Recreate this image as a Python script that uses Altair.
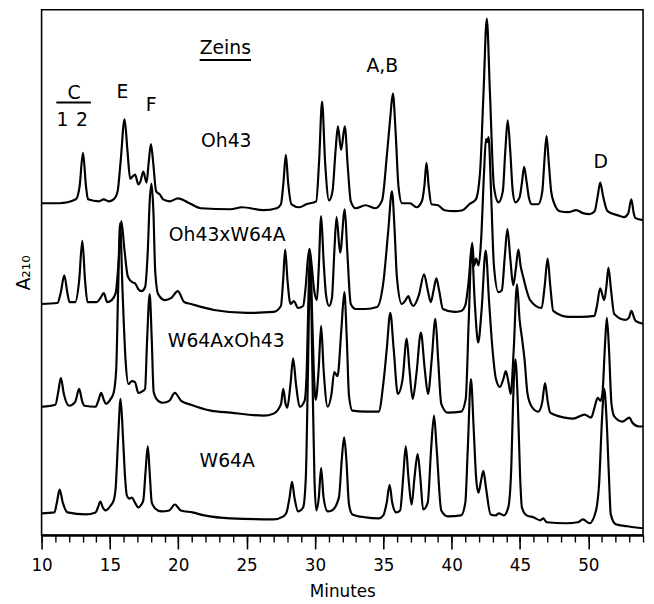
import altair as alt
import pandas as pd

# ---- chromatogram traces: retention time (min) and A210 (arbitrary units, stacked offsets)
oh43_t = [10.00, 11.30, 12.51, 12.78, 13.03, 13.25, 13.40, 14.19, 14.55, 14.91, 15.27, 15.56, 15.78, 16.07, 16.29, 16.48, 16.65, 16.84, 17.08, 17.23, 17.44, 17.68, 17.84, 18.00, 18.16, 18.38, 18.65, 18.89, 19.37, 19.97, 20.82, 21.65, 23.82, 24.67, 26.24, 27.20, 27.51, 27.70, 27.87, 28.03, 28.28, 28.86, 29.36, 30.09, 30.30, 30.52, 30.74, 31.03, 31.28, 31.50, 31.68, 31.91, 32.18, 32.40, 32.62, 32.98, 33.70, 34.42, 34.91, 35.27, 35.51, 35.70, 35.90, 36.11, 36.37, 36.95, 37.43, 37.82, 38.00, 38.16, 38.32, 38.52, 39.00, 39.48, 40.20, 40.80, 41.29, 41.77, 42.08, 42.33, 42.57, 42.80, 43.09, 43.42, 43.74, 43.92, 44.10, 44.29, 44.47, 44.66, 44.97, 45.15, 45.30, 45.48, 45.66, 45.86, 46.34, 46.63, 46.78, 46.94, 47.10, 47.28, 47.50, 47.91, 48.51, 49.11, 49.60, 50.08, 50.46, 50.68, 50.87, 51.08, 51.40, 52.12, 52.61, 52.92, 53.14, 53.32, 53.45, 54.00]
oh43_a = [336, 336, 340, 353, 387, 353, 340, 338, 340, 338, 340, 348, 378, 421, 388, 361, 363, 365, 355, 358, 368, 357, 378, 396, 378, 348, 345, 340, 338, 341, 336, 331, 330, 332, 329, 331, 335, 358, 385, 358, 335, 332, 335, 338, 378, 439, 378, 339, 348, 388, 414, 390, 414, 373, 338, 331, 334, 331, 339, 386, 423, 447, 408, 353, 336, 336, 332, 338, 353, 377, 353, 335, 334, 329, 328, 329, 335, 340, 368, 448, 523, 448, 353, 337, 348, 388, 420, 388, 348, 337, 342, 358, 373, 358, 341, 335, 335, 348, 378, 404, 378, 348, 336, 328, 327, 329, 326, 325, 328, 343, 357, 343, 328, 324, 322, 326, 340, 326, 321, 319]

oh43xw64a_t = [10.00, 11.16, 11.41, 11.66, 11.88, 12.04, 12.46, 12.75, 12.98, 13.18, 13.36, 14.05, 14.30, 14.55, 14.80, 15.13, 15.42, 15.64, 15.83, 16.07, 16.29, 16.48, 16.65, 16.84, 17.08, 17.32, 17.57, 17.77, 17.91, 18.04, 18.18, 18.31, 18.53, 19.01, 19.47, 19.97, 20.43, 20.93, 22.62, 25.03, 26.96, 27.51, 27.67, 27.82, 27.99, 28.21, 28.45, 28.76, 29.13, 29.33, 29.47, 29.60, 29.76, 29.94, 30.14, 30.27, 30.45, 30.63, 30.81, 31.03, 31.24, 31.42, 31.58, 31.84, 32.18, 32.36, 32.62, 32.98, 33.70, 34.54, 35.02, 35.36, 35.63, 35.83, 35.99, 36.35, 36.63, 36.83, 37.02, 37.19, 37.60, 37.98, 38.25, 38.47, 38.68, 38.88, 39.08, 39.36, 40.20, 40.69, 41.00, 41.25, 41.50, 41.65, 41.79, 41.97, 42.15, 42.37, 42.51, 42.61, 42.70, 42.88, 43.09, 43.42, 43.67, 43.89, 44.08, 44.29, 44.50, 44.68, 44.88, 45.04, 45.26, 45.48, 45.74, 46.58, 46.81, 47.02, 47.21, 47.43, 48.51, 49.47, 50.44, 50.64, 50.86, 51.16, 51.33, 51.47, 51.66, 51.89, 52.72, 52.96, 53.15, 53.35, 53.45, 54.00]
oh43xw64a_a = [234, 235, 246, 263, 246, 236, 236, 258, 298, 258, 236, 236, 240, 245, 236, 238, 245, 278, 318, 288, 263, 258, 256, 255, 249, 247, 251, 288, 338, 356, 328, 268, 244, 238, 240, 247, 236, 234, 228, 225, 226, 232, 258, 289, 258, 234, 237, 230, 232, 253, 278, 290, 273, 248, 238, 268, 323, 278, 243, 232, 240, 288, 322, 286, 330, 288, 234, 229, 229, 231, 258, 308, 348, 308, 262, 234, 238, 242, 235, 232, 243, 264, 248, 236, 248, 260, 248, 229, 226, 227, 233, 258, 296, 273, 280, 273, 298, 368, 401, 398, 403, 348, 273, 246, 248, 283, 310, 280, 253, 268, 289, 273, 260, 248, 238, 230, 253, 280, 253, 227, 221, 221, 222, 233, 250, 238, 253, 271, 248, 224, 218, 220, 227, 220, 217, 214]

w64axoh43_t = [10.00, 11.01, 11.23, 11.41, 11.63, 12.02, 12.46, 12.75, 12.96, 13.14, 13.95, 14.15, 14.36, 14.55, 14.70, 15.06, 15.27, 15.46, 15.60, 15.74, 15.92, 16.14, 16.36, 16.60, 16.83, 17.08, 17.30, 17.57, 17.72, 17.91, 18.06, 18.20, 18.53, 18.89, 19.34, 19.75, 20.21, 20.93, 22.38, 23.82, 26.24, 26.96, 27.52, 27.68, 27.85, 27.97, 28.21, 28.40, 28.61, 28.88, 29.24, 29.40, 29.52, 29.64, 29.76, 29.91, 30.05, 30.27, 30.45, 30.63, 30.93, 31.21, 31.41, 31.65, 31.93, 32.15, 32.33, 32.49, 32.74, 33.70, 34.66, 35.02, 35.25, 35.51, 35.76, 36.06, 36.41, 36.71, 36.91, 37.15, 37.42, 37.75, 38.03, 38.27, 38.54, 38.81, 39.01, 39.24, 39.72, 40.69, 41.03, 41.25, 41.47, 41.68, 41.94, 42.19, 42.49, 42.73, 42.97, 43.24, 43.53, 43.78, 43.96, 44.14, 44.32, 44.54, 44.78, 44.97, 45.14, 45.33, 45.55, 45.86, 46.34, 46.63, 46.83, 47.03, 47.21, 48.27, 48.87, 49.31, 49.72, 50.20, 50.43, 50.68, 50.90, 51.04, 51.20, 51.35, 51.51, 51.69, 51.91, 52.49, 53.01, 53.21, 53.69, 54.00]
w64axoh43_a = [130, 132, 146, 159, 143, 131, 135, 148, 136, 131, 130, 136, 144, 137, 133, 138, 144, 168, 248, 316, 248, 178, 153, 156, 155, 144, 145, 148, 198, 244, 198, 145, 136, 134, 136, 144, 136, 132, 126, 124, 121, 123, 133, 148, 133, 129, 153, 179, 153, 130, 136, 168, 238, 286, 238, 168, 137, 168, 212, 168, 130, 143, 165, 161, 208, 246, 198, 141, 126, 125, 125, 156, 188, 225, 188, 143, 158, 199, 168, 138, 163, 205, 168, 143, 178, 219, 178, 133, 124, 125, 138, 218, 292, 238, 195, 228, 288, 238, 191, 158, 150, 158, 166, 156, 143, 188, 254, 218, 200, 178, 143, 130, 125, 135, 154, 135, 124, 119, 118, 120, 122, 119, 128, 139, 136, 145, 188, 220, 188, 133, 120, 115, 119, 114, 110, 110]

w64a_t = [10.00, 10.94, 11.12, 11.32, 11.55, 11.90, 13.23, 13.95, 14.12, 14.30, 14.48, 14.67, 15.06, 15.27, 15.42, 15.60, 15.78, 15.96, 16.11, 16.24, 16.43, 16.60, 16.83, 17.08, 17.30, 17.44, 17.60, 17.77, 17.91, 18.06, 18.31, 18.76, 19.34, 19.75, 20.19, 21.03, 21.90, 23.82, 26.96, 27.70, 27.92, 28.14, 28.32, 28.50, 28.76, 29.13, 29.33, 29.49, 29.65, 29.81, 29.96, 30.10, 30.28, 30.45, 30.63, 30.93, 31.24, 31.75, 31.97, 32.13, 32.29, 32.49, 32.74, 33.70, 34.66, 35.00, 35.25, 35.46, 35.65, 35.94, 36.23, 36.45, 36.64, 36.84, 37.07, 37.28, 37.51, 37.71, 37.91, 38.25, 38.50, 38.71, 38.90, 39.24, 39.72, 40.69, 41.00, 41.18, 41.41, 41.61, 41.79, 41.96, 42.15, 42.32, 42.51, 42.85, 43.22, 43.45, 43.82, 44.14, 44.36, 44.50, 44.66, 44.83, 45.01, 45.14, 45.48, 45.98, 46.49, 46.71, 46.94, 48.39, 49.23, 49.60, 50.08, 50.56, 50.79, 51.00, 51.16, 51.33, 51.51, 51.64, 52.00, 52.85, 54.00]
w64a_a = [22, 23, 33, 46, 33, 23, 21, 23, 28, 34, 28, 25, 30, 35, 48, 98, 138, 98, 58, 40, 37, 38, 33, 28, 31, 35, 63, 90, 63, 33, 27, 24, 25, 31, 25, 23, 20, 17, 16, 19, 23, 38, 54, 38, 24, 28, 58, 168, 282, 168, 58, 25, 38, 68, 38, 24, 25, 38, 78, 99, 78, 31, 21, 18, 17, 20, 33, 51, 33, 23, 25, 58, 90, 58, 31, 58, 82, 58, 26, 33, 88, 121, 88, 25, 19, 20, 33, 88, 158, 108, 58, 43, 55, 65, 48, 21, 20, 22, 20, 28, 68, 138, 178, 138, 58, 28, 20, 18, 15, 17, 13, 12, 13, 16, 12, 25, 53, 118, 148, 118, 58, 21, 11, 9, 7]

# ---- axis ticks
major_ticks = [10, 15, 20, 25, 30, 35, 40, 45, 50]
minor_ticks = list(range(10, 55))

# ---- annotations (data coordinates)
label_text = ["Zeins", "C", "1", "2", "E", "F", "Oh43", "Oh43xW64A", "W64AxOh43", "W64A", "A,B", "D"]
label_t = [23.44, 12.38, 11.52, 12.96, 15.92, 18.02, 23.51, 23.58, 23.51, 23.58, 34.93, 50.90]
label_a = [493, 448, 420, 420, 449, 435, 399, 304, 196, 75, 475, 378]

rule_t1 = [21.56, 11.08]
rule_t2 = [25.32, 13.61]
rule_a = [481, 438]

rows = []
for name, ts, hs in [("Oh43", oh43_t, oh43_a), ("Oh43xW64A", oh43xw64a_t, oh43xw64a_a),
                     ("W64AxOh43", w64axoh43_t, w64axoh43_a), ("W64A", w64a_t, w64a_a)]:
    for i, (t, h) in enumerate(zip(ts, hs)):
        rows.append({"trace": name, "minutes": t, "a210": h, "i": i})
df = pd.DataFrame(rows)
df_lab = pd.DataFrame({"text": label_text, "minutes": label_t, "a210": label_a})
df_rule = pd.DataFrame({"t1": rule_t1, "t2": rule_t2, "a210": rule_a})

FONT = "DejaVu Sans"
xs = alt.Scale(domain=[10, 54], nice=False)
ys = alt.Scale(domain=[0, 532], nice=False, zero=False)

x_axis = alt.Axis(
    orient="bottom",
    values=major_ticks,
    tickSize=14, tickWidth=1.6, tickColor="black", domainColor="black", domainWidth=2.2,
    labelFont=FONT, labelFontSize=17, labelColor="black", labelPadding=9,
    labelFlush=False, labelOverlap=False, grid=False,
    titleFont=FONT, titleFontSize=17, titleFontWeight="normal", titleColor="black", titlePadding=10,
)
x_minor_axis = alt.Axis(
    orient="bottom", values=minor_ticks, tickSize=7, tickWidth=1.4, tickColor="black",
    labels=False, domain=False, grid=False, title=None,
)
y_axis = alt.Axis(
    labels=False, ticks=False, domain=False, grid=False,
    titleFont=FONT, titleFontSize=19, titleFontWeight="normal", titleColor="black", titlePadding=8,
)

lines = alt.Chart(df).mark_line(color="black", strokeWidth=2.2, interpolate="monotone", clip=True).encode(
    x=alt.X("minutes:Q", scale=xs, axis=x_axis, title="Minutes"),
    y=alt.Y("a210:Q", scale=ys, axis=y_axis, title="A₂₁₀"),
    detail="trace:N",
    order="i:Q",
)

texts = alt.Chart(df_lab).mark_text(font=FONT, fontSize=19, color="black", align="center", baseline="middle").encode(
    x=alt.X("minutes:Q", scale=xs, axis=None),
    y=alt.Y("a210:Q", scale=ys, axis=None),
    text="text:N",
)

rules = alt.Chart(df_rule).mark_rule(color="black", strokeWidth=2).encode(
    x=alt.X("t1:Q", scale=xs, axis=x_minor_axis),
    x2="t2:Q",
    y=alt.Y("a210:Q", scale=ys, axis=None),
)

chart = alt.layer(lines, texts, rules).resolve_scale(x="shared", y="shared").resolve_axis(
    x="independent", y="independent"
).properties(
    width=609, height=532,
    padding={"left": 34, "top": -2, "right": 3, "bottom": 66},
    autosize=alt.AutoSizeParams(type="none"),
    background="white",
).configure_view(stroke="black", strokeWidth=1.6)

chart.save("out.html", embed_options={"renderer": "svg", "actions": False})
